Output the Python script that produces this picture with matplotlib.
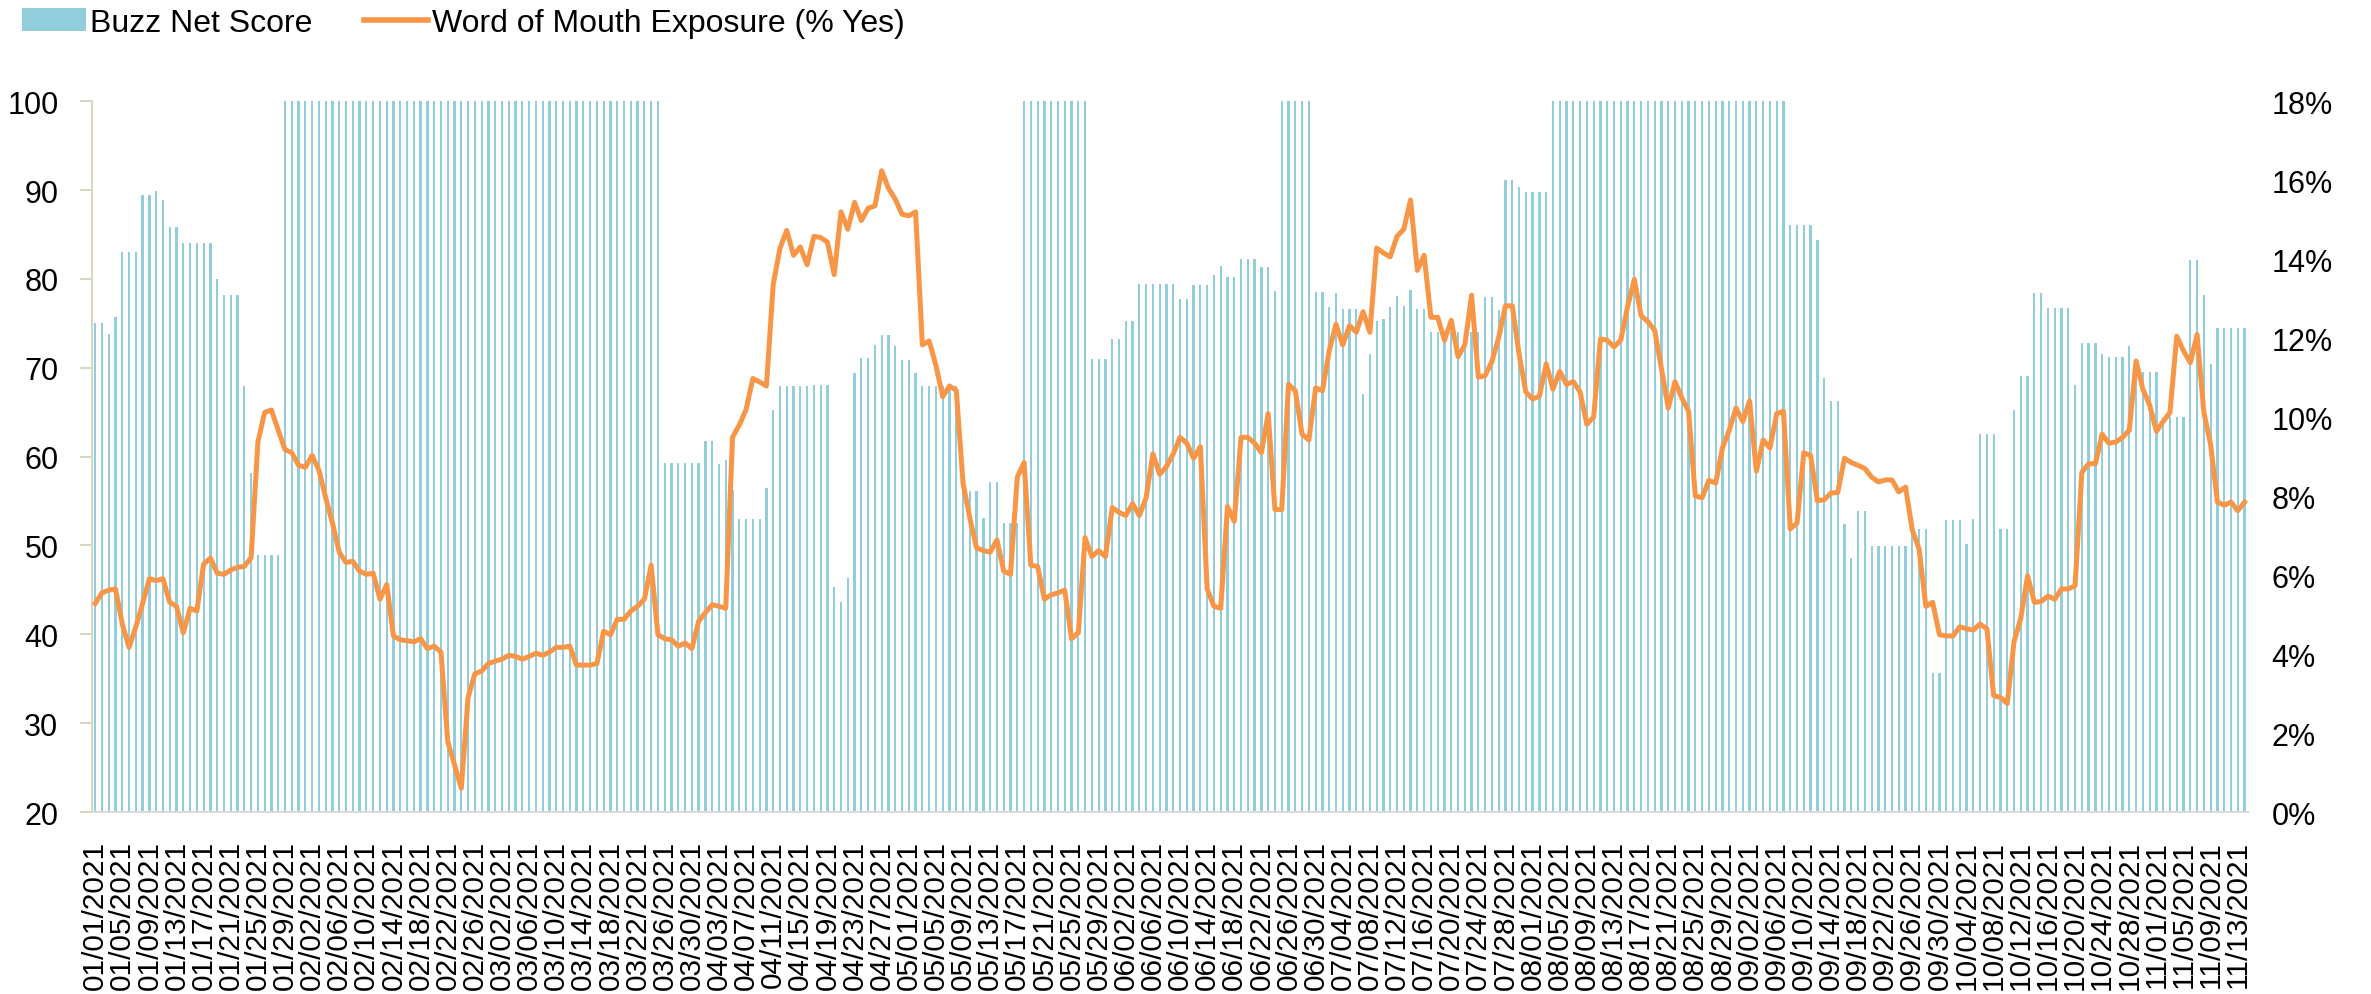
import matplotlib
matplotlib.use("Agg")
import matplotlib.pyplot as plt
import numpy as np
import pandas as pd
from matplotlib.patches import Patch
from matplotlib.lines import Line2D

plt.rcParams['font.family'] = ['Liberation Sans', 'DejaVu Sans']

start_date = "2021-01-01"

# Buzz Net Score (left axis), one value per day from 01/01/2021
buzz = [
    75.0, 75.0, 73.8, 75.7, 83.0, 83.0, 83.0, 89.5, 89.5, 89.9, 88.9, 85.9, 85.9, 84.1, 84.1, 84.1,
    84.1, 84.1, 80.0, 78.2, 78.2, 78.2, 67.9, 58.2, 48.9, 48.9, 48.9, 48.9, 100, 100, 100,
    100, 100, 100, 100, 100, 100, 100, 100, 100, 100, 100, 100, 100, 100, 100, 100, 100, 100,
    100, 100, 100, 100, 100, 100, 100, 100, 100, 100,
    100, 100, 100, 100, 100, 100, 100, 100, 100, 100, 100, 100, 100, 100, 100, 100, 100, 100,
    100, 100, 100, 100, 100, 100, 100, 59.3, 59.3, 59.3, 59.3, 59.3, 59.3, 61.8,
    61.8, 59.2, 59.6, 56.3, 53.0, 53.0, 53.0, 53.0, 56.5, 65.3, 68.0, 68.0, 68.0, 68.0, 68.0,
    68.1, 68.1, 68.1, 45.3, 43.6, 46.3, 69.4, 71.1, 71.1, 72.6, 73.7, 73.7, 72.4, 70.9, 70.9,
    69.4, 67.9, 67.9, 67.9, 67.9, 67.9, 67.9, 56.1, 56.1, 56.1, 53.1, 57.1, 57.1, 52.5, 52.5,
    52.5, 100, 100, 100, 100, 100, 100, 100, 100, 100, 100, 71.0, 71.0, 71.0, 73.2,
    73.2, 75.3, 75.3, 79.4, 79.4, 79.4, 79.4, 79.4, 79.4, 77.8, 77.8, 79.3, 79.3, 79.3, 80.5,
    81.5, 80.2, 80.2, 82.3, 82.3, 82.3, 81.3, 81.3, 78.7, 100, 100, 100, 100, 100, 78.5,
    78.5, 76.8, 78.4, 76.6, 76.6, 76.6, 67.1, 71.6, 75.3, 75.5, 76.8, 78.1, 77.0, 78.8, 76.6,
    76.6, 74.0, 74.0, 74.0, 74.0, 74.0, 74.0, 74.0, 74.0, 78.0, 78.0, 76.5, 91.1, 91.1, 90.3,
    89.8, 89.8, 89.8, 89.8, 100, 100, 100, 100, 100, 100, 100, 100, 100, 100, 100, 100,
    100, 100, 100, 100, 100, 100, 100, 100, 100, 100, 100, 100, 100, 100, 100, 100, 100,
    100, 100, 100, 100, 100, 100, 86.1, 86.1, 86.1, 86.1, 84.4, 68.8, 66.3, 66.3, 52.4,
    48.6, 53.9, 53.9, 49.9, 49.9, 49.9, 49.9, 49.9, 49.9, 51.9, 51.9, 51.9, 35.7, 35.7, 52.9,
    52.9, 52.9, 50.2, 53.0, 62.5, 62.5, 62.5, 51.9, 51.9, 65.3, 69.1, 69.1, 78.4, 78.4, 76.7,
    76.7, 76.7, 76.7, 68.1, 72.8, 72.8, 72.8, 71.5, 71.2, 71.2, 71.2, 72.5, 69.5, 69.5, 69.5,
    69.5, 64.5, 64.5, 64.5, 64.5, 82.1, 82.1, 78.2, 70.4, 74.5, 74.5, 74.5, 74.5, 74.5,
]

# Word of Mouth Exposure (% Yes), right axis, in percent
wom = [
    5.28, 5.55, 5.62, 5.65, 4.76, 4.17, 4.69, 5.28, 5.91, 5.86, 5.91, 5.31, 5.21, 4.54, 5.16, 5.09,
    6.28, 6.43, 6.05, 6.02, 6.13, 6.20, 6.22, 6.44, 9.37, 10.12, 10.18, 9.67, 9.18, 9.10, 8.78,
    8.73, 9.03, 8.66, 7.96, 7.32, 6.58, 6.32, 6.35, 6.10,
    6.02, 6.05, 5.39, 5.76, 4.46, 4.36, 4.34, 4.31, 4.39, 4.14, 4.20, 4.05, 1.79, 1.19, 0.60,
    2.90, 3.50, 3.57, 3.76, 3.82, 3.87, 3.97, 3.94, 3.87, 3.94, 4.02, 3.97, 4.05, 4.17, 4.17,
    4.20, 3.72, 3.72, 3.72, 3.76, 4.58, 4.49, 4.88, 4.88, 5.09, 5.21,
    5.39, 6.25, 4.49, 4.39, 4.36, 4.20, 4.28, 4.14, 4.83, 5.05, 5.25, 5.21, 5.16, 9.49, 9.80,
    10.19, 10.98, 10.89, 10.79, 13.36, 14.28, 14.73, 14.10, 14.31, 13.86, 14.58, 14.55, 14.43,
    13.61, 15.20, 14.76, 15.44, 14.98, 15.29, 15.35, 16.24, 15.80, 15.52, 15.14, 15.10, 15.20,
    11.83, 11.93, 11.31, 10.52, 10.79, 10.68, 8.33, 7.44, 6.69, 6.62, 6.58, 6.89, 6.10, 6.02,
    8.48, 8.85, 6.25, 6.22, 5.39, 5.50, 5.55, 5.62, 4.39, 4.54, 6.95, 6.47, 6.62, 6.47, 7.71,
    7.59, 7.51, 7.81, 7.51, 7.96, 9.07, 8.55, 8.75, 9.07, 9.49, 9.34, 8.96, 9.25,
    5.65, 5.21, 5.16, 7.74, 7.36, 9.49, 9.49, 9.34, 9.10, 10.09, 7.66, 7.66, 10.83, 10.67, 9.57,
    9.42, 10.74, 10.67, 11.68, 12.35, 11.83, 12.32, 12.15, 12.67, 12.15, 14.28, 14.16, 14.06,
    14.58, 14.76, 15.50, 13.72, 14.10, 12.53, 12.53, 11.95, 12.45, 11.53, 11.83, 13.09, 11.01,
    11.05, 11.41, 12.02, 12.82, 12.82, 11.60, 10.64, 10.46, 10.53, 11.35, 10.71, 11.16, 10.83,
    10.90, 10.64, 9.82, 10.00, 11.98, 11.95, 11.78, 11.95, 12.79, 13.49, 12.57, 12.42, 12.20,
    11.23, 10.23, 10.90, 10.49, 10.15, 8.00, 7.96, 8.40, 8.33, 9.22, 9.67, 10.23, 9.89, 10.41, 8.63,
    9.42, 9.22, 10.09, 10.15, 7.17, 7.32, 9.10, 9.03, 7.88, 7.91, 8.08, 8.09, 8.96, 8.85, 8.78,
    8.70, 8.48, 8.36, 8.41, 8.41, 8.11, 8.23, 7.14, 6.66, 5.21, 5.31, 4.49, 4.46, 4.46, 4.69,
    4.64, 4.61, 4.76, 4.64, 2.95, 2.90, 2.75, 4.31, 4.91, 5.98, 5.31,
    5.33, 5.47, 5.39, 5.65, 5.65, 5.73, 8.60, 8.82, 8.82, 9.57, 9.34, 9.37, 9.49, 9.67, 11.42,
    10.71, 10.31, 9.64, 9.89, 10.12, 12.05, 11.68, 11.38, 12.09, 10.12, 9.30, 7.85, 7.77, 7.85,
    7.63, 7.85,
]

left_ticks = [20, 30, 40, 50, 60, 70, 80, 90, 100]
right_ticks = [0, 2, 4, 6, 8, 10, 12, 14, 16, 18]
label_every = 4

BAR_COLOR = "#92CDDC"
LINE_COLOR = "#F79646"

n = len(buzz)
dates = pd.date_range(start_date, periods=n, freq="D")
x = np.arange(n)

fig = plt.figure(figsize=(23.71, 9.95), dpi=100)
ax = fig.add_axes([0.0387, 0.1829, 0.9094, 0.7143])
ax.bar(x, buzz, width=0.33, color=BAR_COLOR, zorder=1)
ax.set_xlim(-0.5, n - 0.5)
ax.set_ylim(left_ticks[0], left_ticks[-1])
ax.set_yticks(left_ticks)
ax.set_yticklabels([str(t) for t in left_ticks], fontsize=22)

idx = x[::label_every]
ax.set_xticks(idx)
ax.set_xticklabels([dates[i].strftime("%m/%d/%Y") for i in idx], rotation=90,
                   fontsize=21.5, va="top", ha="center")
ax.tick_params(axis="x", length=0, pad=20)
ax.tick_params(axis="y", length=9, width=1.5, color="#D9D6C3", pad=15, direction="out")

for s in ["top", "right"]:
    ax.spines[s].set_visible(False)
ax.spines["left"].set_color("#D9D6C3")
ax.spines["left"].set_linewidth(1.5)
ax.spines["bottom"].set_color("#D9D9D9")
ax.spines["bottom"].set_linewidth(1.5)

ax2 = ax.twinx()
ax2.plot(x, wom, color=LINE_COLOR, linewidth=3.6, solid_joinstyle="round", zorder=3)
ax2.set_ylim(right_ticks[0], right_ticks[-1])
ax2.set_yticks(right_ticks)
ax2.set_yticklabels([f"{t}%" for t in right_ticks], fontsize=22)
ax2.tick_params(axis="y", length=0, pad=17)
for s in ax2.spines.values():
    s.set_visible(False)

handles = [Patch(facecolor=BAR_COLOR, edgecolor="none"),
           Line2D([0], [0], color=LINE_COLOR, linewidth=4)]
fig.legend(handles, ["Buzz Net Score", "Word of Mouth Exposure (% Yes)"],
           loc="upper left", bbox_to_anchor=(-0.003, 1.02), ncol=2, frameon=False,
           fontsize=23, handlelength=2.0, handletextpad=0.15, columnspacing=1.6,
           handleheight=0.7)

fig.savefig("out.png", dpi=100)
